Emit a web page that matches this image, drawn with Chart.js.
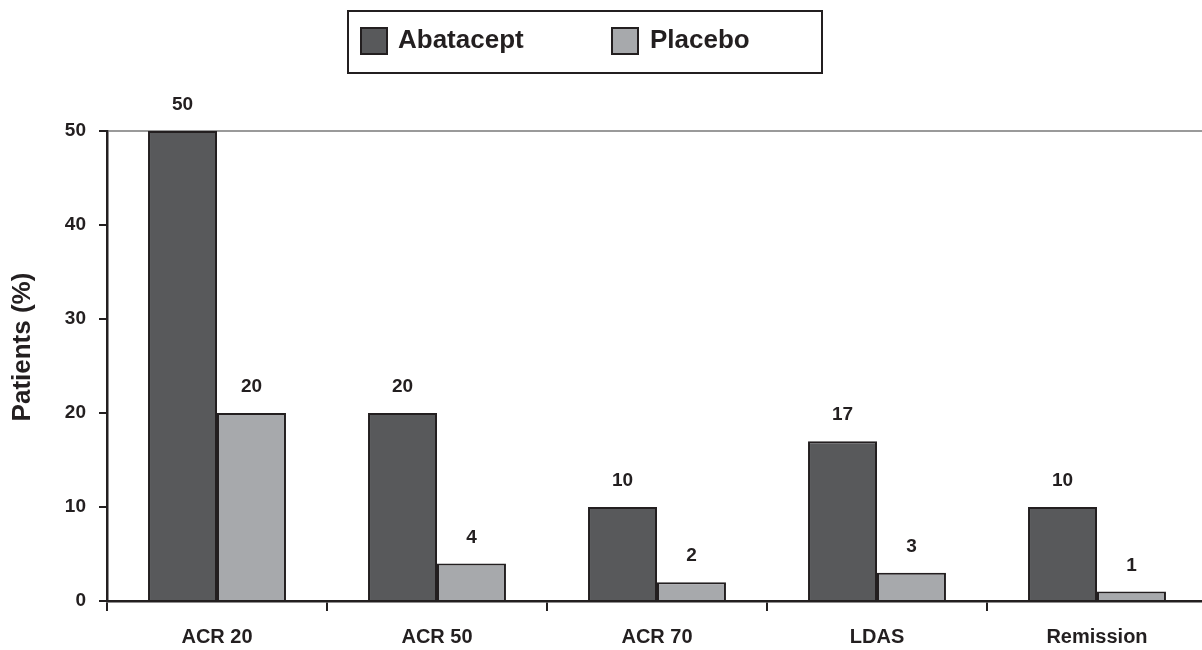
<!DOCTYPE html>
<html>
<head>
<meta charset="utf-8">
<script src="https://cdn.jsdelivr.net/npm/chart.js@4.4.1/dist/chart.umd.min.js"></script>
<style>
  html, body { margin: 0; padding: 0; background: #fff; overflow: hidden; }
  #wrap { width: 1210px; height: 650px; }
</style>
</head>
<body>
<div id="wrap"><canvas id="chart"></canvas></div>
<script>
// data
const categories = ['ACR 20', 'ACR 50', 'ACR 70', 'LDAS', 'Remission'];
const abatacept = [50, 20, 10, 17, 10];
const placebo = [20, 4, 2, 3, 1];
const yTicks = [0, 10, 20, 30, 40, 50];
const yTitle = 'Patients (%)';

const INK = '#231f20';
const DARK = '#58595b';
const LIGHT = '#a7a9ac';
const FONT = '"Liberation Sans", Arial, Helvetica, sans-serif';

// value labels above every bar
const valueLabels = {
  id: 'valueLabels',
  afterDatasetsDraw(chart) {
    const ctx = chart.ctx;
    ctx.save();
    ctx.font = 'bold 19px ' + FONT;
    ctx.fillStyle = INK;
    ctx.textAlign = 'center';
    ctx.textBaseline = 'middle';
    chart.data.datasets.forEach((ds, i) => {
      chart.getDatasetMeta(i).data.forEach((bar, j) => {
        ctx.fillText(String(ds.data[j]), bar.x, bar.y - 26);
      });
    });
    ctx.restore();
  }
};

// boxed legend and the y title, drawn like the original
const boxedLegend = {
  id: 'boxedLegend',
  afterDraw(chart) {
    const ctx = chart.ctx;
    ctx.save();
    ctx.lineWidth = 2;
    ctx.strokeStyle = INK;
    ctx.strokeRect(348, 11, 474, 62);

    const items = [
      { x: 361, tx: 398, ds: chart.data.datasets[0] },
      { x: 612, tx: 650, ds: chart.data.datasets[1] }
    ];
    ctx.font = 'bold 26px ' + FONT;
    ctx.textBaseline = 'middle';
    ctx.textAlign = 'left';
    items.forEach(it => {
      ctx.fillStyle = it.ds.backgroundColor;
      ctx.fillRect(it.x, 28, 26, 26);
      ctx.strokeRect(it.x, 28, 26, 26);
      ctx.fillStyle = INK;
      ctx.fillText(it.ds.label, it.tx, 41);
    });

    ctx.translate(23, 347);
    ctx.rotate(-Math.PI / 2);
    ctx.textAlign = 'center';
    ctx.fillText(yTitle, 0, 0);
    ctx.restore();
  }
};

new Chart(document.getElementById('chart'), {
  type: 'bar',
  data: {
    labels: categories,
    datasets: [
      { label: 'Abatacept', data: abatacept, backgroundColor: DARK, borderColor: INK, borderWidth: 2 },
      { label: 'Placebo', data: placebo, backgroundColor: LIGHT, borderColor: INK, borderWidth: 2 }
    ]
  },
  options: {
    responsive: true,
    maintainAspectRatio: false,
    animation: false,
    categoryPercentage: 0.627,
    barPercentage: 1,
    layout: { padding: { top: 131, right: 3, bottom: 0, left: 0 } },
    plugins: {
      legend: { display: false },
      tooltip: { enabled: false }
    },
    scales: {
      x: {
        grid: {
          offset: true,
          drawOnChartArea: false,
          tickLength: 10,
          tickColor: INK,
          lineWidth: 2
        },
        border: { color: INK, width: 2.5 },
        ticks: {
          color: INK,
          padding: 14,
          font: { family: FONT, size: 20, weight: 'bold' }
        },
        afterFit(scale) { scale.height = 49; }
      },
      y: {
        min: 0,
        max: 50,
        afterBuildTicks(scale) { scale.ticks = yTicks.map(v => ({ value: v })); },
        grid: {
          color: c => (c.tick && c.tick.value === 50 ? '#9a9a9a' : 'rgba(0,0,0,0)'),
          lineWidth: 2,
          tickLength: 8,
          tickColor: INK
        },
        border: { color: INK, width: 2.5 },
        ticks: {
          color: INK,
          padding: 13,
          font: { family: FONT, size: 19, weight: 'bold' }
        },
        afterFit(scale) { scale.width = 107; }
      }
    }
  },
  plugins: [valueLabels, boxedLegend]
});
</script>
</body>
</html>
